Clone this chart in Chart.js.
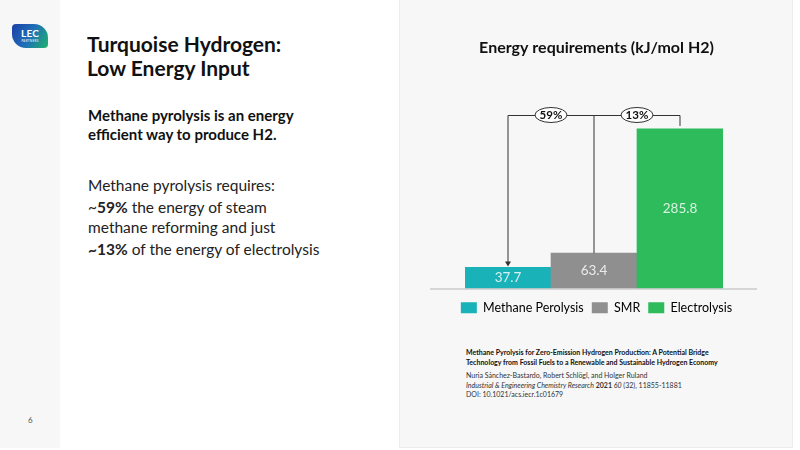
<!DOCTYPE html>
<html>
<head>
<meta charset="utf-8">
<script src="https://cdn.jsdelivr.net/npm/chart.js@4.4.1/dist/chart.umd.min.js"></script>
<style>
  html, body { margin: 0; padding: 0; background: #fff; }
  body { width: 800px; height: 450px; position: relative; overflow: hidden; font-family: "Lato", "Open Sans", sans-serif; color: #111; }
  .strip { position: absolute; left: 0; top: 0; width: 60px; height: 448px; background: #f7f7f7; }
  .panel { position: absolute; left: 399px; top: 0; width: 394px; height: 448px; background: #f7f7f7; border: 1px solid #ececec; border-top: none; box-sizing: border-box; }
  .logo { position: absolute; left: 12px; top: 24px; width: 36px; height: 24px; border-radius: 4px 14px 4px 14px; background: linear-gradient(120deg, #1b3fa8 0%, #1f6fb8 50%, #1fb36a 100%); color: #fff; text-align: center; }
  .logo b { display: block; font-size: 10px; line-height: 11px; margin-top: 4px; letter-spacing: 0.2px; }
  .logo i { display: block; font-style: normal; font-size: 3px; line-height: 4px; letter-spacing: 0.3px; }
  .h1 { position: absolute; left: 87px; top: 32px; font-size: 21px; line-height: 24px; font-weight: 700; }
  .lead { position: absolute; left: 88px; top: 106px; font-size: 15px; line-height: 19px; font-weight: 700; }
  .body { position: absolute; left: 88px; top: 175px; font-size: 15.5px; line-height: 20px; font-weight: 400; color: #222; }
  .body p { margin: 0 0 2px 0; }
  .pg { position: absolute; left: 28px; top: 415px; font-size: 8px; color: #555; }
  .cite { position: absolute; left: 466px; top: 348px; font-size: 7px; line-height: 9.5px; color: #333; }
  .cite .t { font-weight: 700; color: #111; margin-bottom: 4px; }
  #wrap { position: absolute; left: 400px; top: 0; width: 393px; height: 324px; }
</style>
</head>
<body>
<div class="strip"></div>
<div class="panel"></div>
<div class="logo"><b>LEC</b><i>PARTNERS</i></div>
<div class="h1">Turquoise Hydrogen:<br>Low Energy Input</div>
<div class="lead">Methane pyrolysis is an energy<br>efficient way to produce H2.</div>
<div class="body">
  <p>Methane pyrolysis requires:</p>
  <p>~<b>59%</b> the energy of steam<br>methane reforming and just</p>
  <p><b>~13%</b> of the energy of electrolysis</p>
</div>
<div class="pg">6</div>
<div class="cite">
  <div class="t">Methane Pyrolysis for Zero-Emission Hydrogen Production: A Potential Bridge<br>Technology from Fossil Fuels to a Renewable and Sustainable Hydrogen Economy</div>
  <div>Nuria Sánchez-Bastardo, Robert Schlögl, and Holger Ruland</div>
  <div><i>Industrial &amp; Engineering Chemistry Research</i> <b>2021</b> <i>60</i> (32), 11855-11881</div>
  <div>DOI: 10.1021/acs.iecr.1c01679</div>
</div>
<div id="wrap"><canvas id="energy-chart"></canvas></div>

<script>
// values
var processes = ['Methane Perolysis', 'SMR', 'Electrolysis'];
var energyKJ = [37.7, 63.4, 285.8];
var barColors = ['#19b2b8', '#8f8f8f', '#2dbb5b'];
var ratioLabels = ['59%', '13%'];

// bracket lines + ellipse labels above the bars, plus the long baseline
var bracketPlugin = {
    id: 'bracket',
    afterDatasetsDraw: function (chart) {
        var ctx = chart.ctx;
        var area = chart.chartArea;
        var bars = chart.getDatasetMeta(0).data;
        var topY = area.top - 6;

        ctx.save();
        // baseline
        ctx.strokeStyle = '#b5b5b5';
        ctx.lineWidth = 1;
        ctx.beginPath();
        ctx.moveTo(area.left - 35, area.bottom + 0.5);
        ctx.lineTo(area.right + 34, area.bottom + 0.5);
        ctx.stroke();

        ctx.strokeStyle = '#333';
        ctx.beginPath();
        ctx.moveTo(bars[0].x, bars[0].y - 5);
        ctx.lineTo(bars[0].x, topY + 0.5);
        ctx.lineTo(bars[2].x, topY + 0.5);
        ctx.lineTo(bars[2].x, bars[2].y - 3);
        ctx.moveTo(bars[1].x, topY);
        ctx.lineTo(bars[1].x, bars[1].y);
        ctx.stroke();

        // arrow head onto first bar
        ctx.fillStyle = '#333';
        ctx.beginPath();
        ctx.moveTo(bars[0].x, bars[0].y - 1);
        ctx.lineTo(bars[0].x - 3, bars[0].y - 6);
        ctx.lineTo(bars[0].x + 3, bars[0].y - 6);
        ctx.closePath();
        ctx.fill();

        ctx.font = 'bold 11.5px Lato, sans-serif';
        ctx.textAlign = 'center';
        ctx.textBaseline = 'middle';
        for (var i = 0; i < ratioLabels.length; i++) {
            var cx = (bars[i].x + bars[i + 1].x) / 2;
            ctx.fillStyle = '#fff';
            ctx.beginPath();
            ctx.ellipse(cx, topY, 16, 7.5, 0, 0, Math.PI * 2);
            ctx.fill();
            ctx.stroke();
            ctx.fillStyle = '#111';
            ctx.fillText(ratioLabels[i], cx, topY + 0.5);
        }

        // value labels inside the bars
        ctx.font = '13.5px Lato, sans-serif';
        ctx.fillStyle = 'rgba(255,255,255,0.82)';
        bars.forEach(function (bar, i) {
            ctx.fillText(energyKJ[i].toFixed(1), bar.x, (bar.y + bar.base) / 2);
        });
        ctx.restore();
    }
};

// invisible axes, only used to reserve space around the bars
var spacer = function (size) {
    return function (scale) {
        if (scale.isHorizontal()) { scale.height = size; } else { scale.width = size; }
    };
};

var ctx = document.getElementById('energy-chart').getContext('2d');
var chart = new Chart(ctx, {
    type: 'bar',
    data: {
        labels: processes,
        datasets: [{
            label: 'Energy requirements',
            data: energyKJ,
            backgroundColor: barColors,
            barPercentage: 1,
            categoryPercentage: 1
        }]
    },
    options: {
        responsive: true,
        maintainAspectRatio: false,
        animation: false,
        layout: { padding: 0 },
        scales: {
            x: {
                display: true,
                grid: { display: false },
                border: { display: false },
                ticks: { display: false },
                afterFit: spacer(5)
            },
            y: {
                display: true, min: 0, max: 300,
                grid: { display: false },
                border: { display: false },
                ticks: { display: false },
                afterFit: spacer(65)
            },
            yRight: {
                display: true, position: 'right', min: 0, max: 300,
                grid: { display: false },
                border: { display: false },
                ticks: { display: false },
                afterFit: spacer(70)
            }
        },
        plugins: {
            title: {
                display: true,
                text: 'Energy requirements (kJ/mol H2)',
                color: '#111',
                font: { family: 'Lato', size: 16, weight: 'bold' },
                padding: { top: 38.4, bottom: 63.4 }
            },
            legend: {
                position: 'bottom',
                labels: {
                    boxWidth: 16,
                    boxHeight: 11,
                    padding: 8,
                    color: '#222',
                    font: { family: 'Lato', size: 12.5 },
                    generateLabels: function (c) {
                        return c.data.labels.map(function (l, i) {
                            return { text: l, fillStyle: barColors[i], strokeStyle: barColors[i], lineWidth: 0, index: i };
                        });
                    }
                }
            },
            tooltip: { enabled: false }
        }
    },
    plugins: [bracketPlugin]
});
</script>
</body>
</html>
